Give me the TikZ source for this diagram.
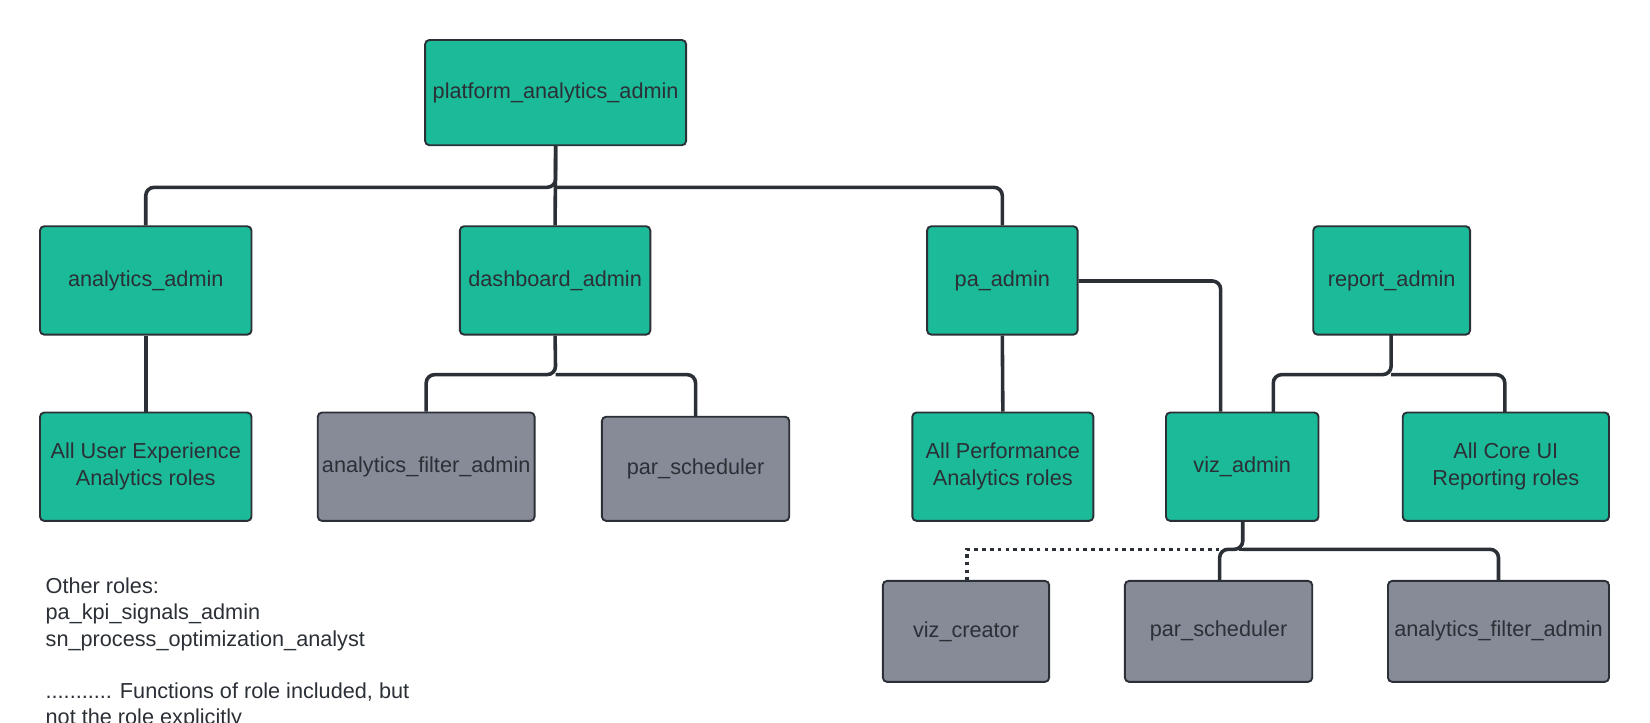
\documentclass[tikz,border=0pt]{standalone}
\usepackage{fontspec}
\setmainfont{Liberation Sans}
\begin{document}
\definecolor{grn}{HTML}{1BBA98}
\definecolor{gry}{HTML}{878B98}
\definecolor{ln}{HTML}{2B2F36}
\begin{tikzpicture}[x=0.5pt,y=-0.5pt,
  box/.style={draw=ln,line width=0.9pt,rounded corners=2pt,text=ln,align=center},
  g/.style={box,fill=grn}, gr/.style={box,fill=gry},
  c/.style={draw=ln,line width=1.7pt,rounded corners=4pt}]
\useasboundingbox (0,0) rectangle (1568,687);
\newcommand\bx[6]{\node[#1,minimum width={(#4-#3)*0.5pt},minimum height={(#6-#5)*0.5pt},inner sep=0pt] (#2) at ({(#3+#4)/2},{(#5+#6)/2}) {};}
\bx{g}{p}{404}{652}{38}{138}
\bx{g}{a}{38}{239}{215}{318}
\bx{g}{d}{437}{618}{215}{318}
\bx{g}{pa}{881}{1024}{215}{318}
\bx{g}{r}{1248}{1397}{215}{318}
\bx{g}{ux}{38}{239}{392}{495}
\bx{gr}{af}{302}{508}{392}{495}
\bx{gr}{ps}{572}{750}{396}{495}
\bx{g}{perf}{867}{1039}{392}{495}
\bx{g}{v}{1108}{1253}{392}{495}
\bx{g}{core}{1333}{1529}{392}{495}
\bx{gr}{vc}{839}{997}{552}{648}
\bx{gr}{ps2}{1069}{1247}{552}{648}
\bx{gr}{af2}{1319}{1529}{552}{648}
\tikzset{t/.style={text=ln,font=\fontsize{10.3}{12.8}\selectfont,align=center,inner sep=0pt}}
\node[t] (tp) at (p) {platform\_analytics\_admin};
\node[t] (ta) at (a) {analytics\_admin};
\node[t] (td) at (d) {dashboard\_admin};
\node[t] (tpa) at (pa) {pa\_admin};
\node[t] (tr) at (r) {report\_admin};
\node[t] (tux) at (ux) {All User Experience\\Analytics roles};
\node[t] (taf) at (af) {analytics\_filter\_admin};
\node[t] (tps) at (ps) {par\_scheduler};
\node[t] (tperf) at (perf) {All Performance\\Analytics roles};
\node[t] (tv) at (v) {viz\_admin};
\node[t] (tcore) at (core) {All Core UI\\Reporting roles};
\node[t] (tvc) at (vc) {viz\_creator};
\node[t] (tps2) at (ps2) {par\_scheduler};
\node[t] (taf2) at (af2) {analytics\_filter\_admin};
\begin{scope}
\clip (0,0) rectangle (1568,687);
\node[t,align=left,anchor=north west,font=\fontsize{10.3}{12.4}\selectfont] (note) at (43,549) {Other roles:\\pa\_kpi\_signals\_admin\\sn\_process\_optimization\_analyst\\[12.4pt]........... Functions of role included, but\\not the role explicitly};
\end{scope}
\draw[c] (p.south) -- (528,178) -| (a.north);
\draw[c] (528,178) -| (pa.north);
\draw[c] (p.south) -- (d.north);
\draw[c] (a.south) -- (ux.north);
\draw[c] (d.south) -- (528,356) -| (af.north);
\draw[c] (528,356) -| (661,396);
\draw[c] (pa.east |- 0,267) -| (v.north -| 1160,0);
\draw[c] (pa.south) -- (perf.north);
\draw[c] (1322,318) -- (1322,356) -| (1210,392);
\draw[c] (1322,356) -| (1430,392);
\draw[c] (1181,495) -- (1181,522) -| (ps2.north -| 1159,0);
\draw[c] (1181,522) -| (af2.north -| 1424,0);
\draw[draw=ln,line width=1.7pt,dotted] (1181,522) -| (vc.north -| 919,0);
\end{tikzpicture}
\end{document}
